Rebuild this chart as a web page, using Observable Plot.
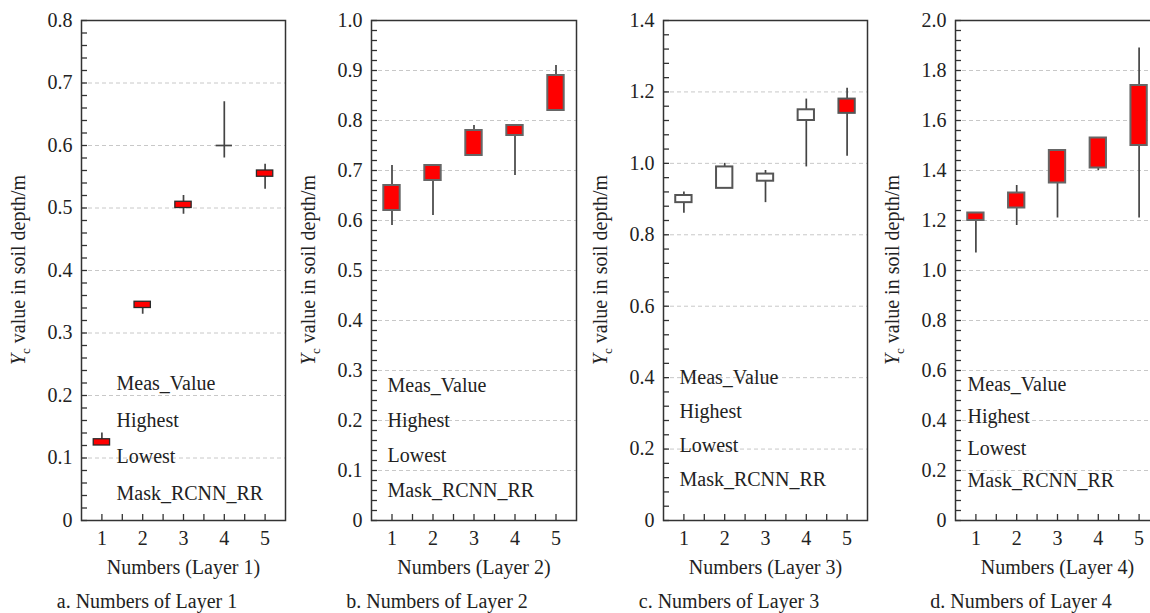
<!DOCTYPE html>
<html>
<head>
<meta charset="utf-8">
<script src="https://cdn.jsdelivr.net/npm/d3@7"></script>
<script src="https://cdn.jsdelivr.net/npm/@observablehq/plot@0.6"></script>
<style>
  html, body { margin: 0; padding: 0; background: #fff; }
  body { width: 1150px; height: 613px; overflow: hidden; font-family: 'Liberation Serif', 'Times New Roman', serif; }
  #wrap { position: relative; width: 1150px; height: 613px; overflow: hidden; }
  .cell { position: absolute; top: 0; width: 290px; height: 585px; }
  .cap { position: absolute; top: 591px; width: 300px; text-align: center; font-size: 20px; line-height: 20px; color: #222; white-space: nowrap; font-family: 'Liberation Serif', serif; }
</style>
</head>
<body>
<div id="wrap"></div>
<script>
// ---------- data ----------
const numbers = [1, 2, 3, 4, 5];

const l1Open  = [0.12, 0.34, 0.50, 0.60, 0.55];
const l1Close = [0.13, 0.35, 0.51, 0.60, 0.56];
const l1High  = [0.14, 0.35, 0.52, 0.67, 0.57];
const l1Low   = [0.12, 0.33, 0.49, 0.58, 0.53];

const l2Open  = [0.62, 0.68, 0.73, 0.77, 0.82];
const l2Close = [0.67, 0.71, 0.78, 0.79, 0.89];
const l2High  = [0.71, 0.71, 0.79, 0.79, 0.91];
const l2Low   = [0.59, 0.61, 0.73, 0.69, 0.82];

const l3Open  = [0.91, 0.99, 0.97, 1.15, 1.14];
const l3Close = [0.89, 0.93, 0.95, 1.12, 1.18];
const l3High  = [0.92, 1.00, 0.98, 1.18, 1.21];
const l3Low   = [0.86, 0.93, 0.89, 0.99, 1.02];

const l4Open  = [1.20, 1.25, 1.35, 1.41, 1.50];
const l4Close = [1.23, 1.31, 1.48, 1.53, 1.74];
const l4High  = [1.23, 1.34, 1.48, 1.53, 1.89];
const l4Low   = [1.07, 1.18, 1.21, 1.40, 1.21];

const l1YTicks = [0, 0.1, 0.2, 0.3, 0.4, 0.5, 0.6, 0.7, 0.8];
const l1YLabels = ["0", "0.1", "0.2", "0.3", "0.4", "0.5", "0.6", "0.7", "0.8"];
const l2YTicks = [0, 0.1, 0.2, 0.3, 0.4, 0.5, 0.6, 0.7, 0.8, 0.9, 1.0];
const l2YLabels = ["0", "0.1", "0.2", "0.3", "0.4", "0.5", "0.6", "0.7", "0.8", "0.9", "1.0"];
const l3YTicks = [0, 0.2, 0.4, 0.6, 0.8, 1.0, 1.2, 1.4];
const l3YLabels = ["0", "0.2", "0.4", "0.6", "0.8", "1.0", "1.2", "1.4"];
const l4YTicks = [0, 0.2, 0.4, 0.6, 0.8, 1.0, 1.2, 1.4, 1.6, 1.8, 2.0];
const l4YLabels = ["0", "0.2", "0.4", "0.6", "0.8", "1.0", "1.2", "1.4", "1.6", "1.8", "2.0"];
const minorSteps = [0.02, 0.02, 0.04, 0.04];

const xLabels = ["Numbers (Layer 1)", "Numbers (Layer 2)", "Numbers (Layer 3)", "Numbers (Layer 4)"];
const captions = ["a. Numbers of Layer 1", "b. Numbers of Layer 2", "c. Numbers of Layer 3", "d. Numbers of Layer 4"];
const legendLabels = ["Meas_Value", "Highest", "Lowest", "Mask_RCNN_RR"];

// ---------- layout (not data) ----------
const layout = [
  {left: 0,   ml: 81, pw: 204, legDx: 35, legY: 383, legLh: 36.7, boxStroke: "#2a2a2a", boxW: 1.3},
  {left: 290, ml: 81, pw: 205, legDx: 16, legY: 385, legLh: 35,   boxStroke: "#666",    boxW: 2},
  {left: 580, ml: 83, pw: 204, legDx: 16, legY: 377, legLh: 34,   boxStroke: "#555",    boxW: 2},
  {left: 870, ml: 85, pw: 204, legDx: 12, legY: 384, legLh: 32,   boxStroke: "#666",    boxW: 2}
];

const series = [
  {open: l1Open, close: l1Close, high: l1High, low: l1Low, ticks: l1YTicks, labels: l1YLabels},
  {open: l2Open, close: l2Close, high: l2High, low: l2Low, ticks: l2YTicks, labels: l2YLabels},
  {open: l3Open, close: l3Close, high: l3High, low: l3Low, ticks: l3YTicks, labels: l3YLabels},
  {open: l4Open, close: l4Close, high: l4High, low: l4Low, ticks: l4YTicks, labels: l4YLabels}
];

const H = 585, MT = 20, MB = 65, W = 290;
const wrap = document.getElementById("wrap");
const fontFam = "'Liberation Serif', 'Times New Roman', serif";

series.forEach((s, p) => {
  const L = layout[p];
  const data = numbers.map((n, i) => ({n, open: s.open[i], close: s.close[i], high: s.high[i], low: s.low[i]}));
  const boxes = data.filter(d => d.open !== d.close);
  const dojis = data.filter(d => d.open === d.close);
  const ymax = s.ticks[s.ticks.length - 1];
  const labelMap = new Map(s.ticks.map((t, i) => [t, s.labels[i]]));
  const majorSet = new Set(s.ticks.map(t => t.toFixed(3)));
  const minor = d3.range(0, ymax + 1e-9, minorSteps[p]).map(v => +v.toFixed(3)).filter(v => !majorSet.has(v.toFixed(3)));
  const xMinor = [1.5, 2.5, 3.5, 4.5];

  const legendMarks = legendLabels.map((lab, i) => Plot.text([lab], {
    text: d => d, frameAnchor: "top-left", textAnchor: "start", lineAnchor: "middle",
    dx: L.legDx, dy: L.legY + i * L.legLh - MT, fontSize: 20, fill: "#222"
  }));

  const plot = Plot.plot({
    width: W, height: H,
    marginLeft: L.ml, marginRight: W - L.ml - L.pw, marginTop: MT, marginBottom: MB,
    style: {fontFamily: fontFam, fontSize: "20px", color: "#222", background: "transparent", overflow: "visible"},
    x: {domain: [0.5, 5.5]},
    y: {domain: [0, ymax]},
    marks: [
      Plot.gridY(s.ticks.filter(t => t > 0 && t < ymax), {stroke: "#c8c8c8", strokeOpacity: 1, strokeDasharray: "4,3", strokeWidth: 1}),
      Plot.ruleX(data, {x: "n", y1: "low", y2: "high", stroke: "#444", strokeWidth: 1.7}),
      Plot.rect(boxes, {x1: d => d.n - 0.2, x2: d => d.n + 0.2, y1: "open", y2: "close",
        fill: d => d.close > d.open ? "#ff0000" : "#ffffff", stroke: L.boxStroke, strokeWidth: L.boxW}),
      Plot.ruleY(dojis, {y: "open", x1: d => d.n - 0.2, x2: d => d.n + 0.2, stroke: "#444", strokeWidth: 1.7}),
      Plot.axisY(s.ticks, {tickSize: 0, tickPadding: 9, tickFormat: d => labelMap.get(d), label: null, fontSize: 20, fill: "#222"}),
      Plot.axisY(s.ticks, {tickSize: 6, dx: 6, text: null, label: null, stroke: "#333", strokeWidth: 1.3}),
      Plot.axisY(minor, {tickSize: 6, dx: 6, text: null, label: null, stroke: "#333", strokeWidth: 1.3}),
      Plot.axisX(numbers, {tickSize: 0, tickPadding: 10, tickFormat: d => String(d), label: null, fontSize: 20, fill: "#222"}),
      Plot.axisX(numbers, {tickSize: 6, dy: -6, text: null, label: null, stroke: "#333", strokeWidth: 1.3}),
      Plot.axisX(xMinor, {tickSize: 6, dy: -6, text: null, label: null, stroke: "#333", strokeWidth: 1.3}),
      Plot.text([xLabels[p]], {text: d => d, frameAnchor: "bottom", lineAnchor: "middle", dy: 47, fontSize: 20, fill: "#222"}),
      Plot.frame({stroke: "#333", strokeWidth: 1.5}),
      ...legendMarks
    ]
  });

  // Y-axis title with italic Y and subscript c
  const svg = d3.select(plot);
  const cy = MT + (H - MT - MB) / 2;
  const t = svg.append("text")
    .attr("transform", `translate(${L.ml - 63},${cy}) rotate(-90)`)
    .attr("text-anchor", "middle")
    .attr("dy", "0.35em")
    .attr("fill", "#222")
    .style("font-family", fontFam)
    .style("font-size", "20px");
  t.append("tspan").attr("font-style", "italic").text("Y");
  t.append("tspan").attr("font-size", "13px").attr("dy", "5").text("c");
  t.append("tspan").attr("dy", "-5").text(" value in soil depth/m");

  const cell = document.createElement("div");
  cell.className = "cell";
  cell.style.left = L.left + "px";
  cell.appendChild(plot);
  wrap.appendChild(cell);

  const cap = document.createElement("div");
  cap.className = "cap";
  cap.style.left = (L.left + L.ml + 66 - 150) + "px";
  cap.textContent = captions[p];
  wrap.appendChild(cap);
});
</script>
</body>
</html>
